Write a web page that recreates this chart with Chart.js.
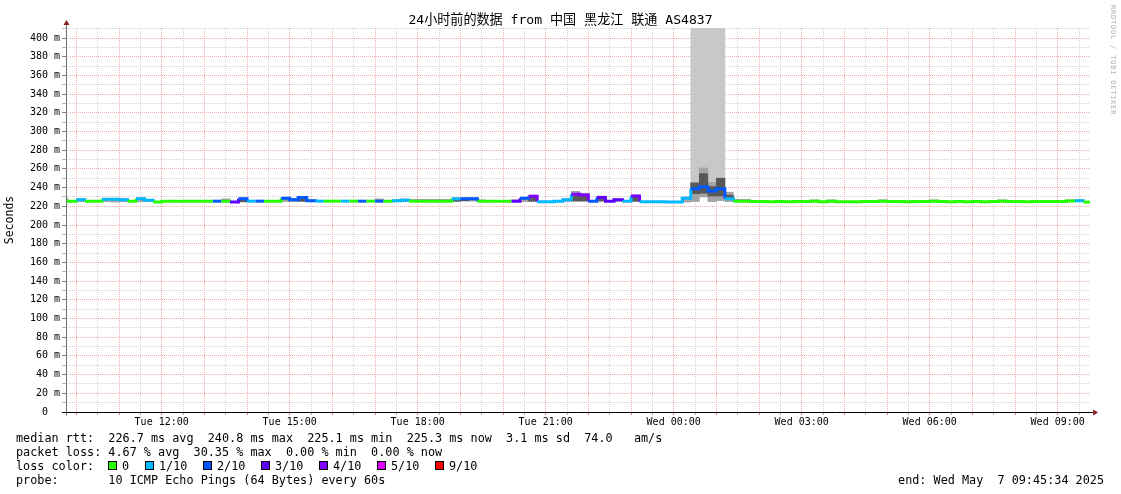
<!DOCTYPE html>
<html><head><meta charset="utf-8">
<script src="https://cdn.jsdelivr.net/npm/chart.js"></script>
<style>
html,body{margin:0;padding:0;background:#fff;overflow:hidden}
#wrap{position:relative;width:1121px;height:494px;background:#fff}
#c{position:absolute;left:0;top:0}
.t{position:absolute;font-family:'DejaVu Sans Mono',monospace;font-size:11.8px;line-height:14px;white-space:pre;color:#000}
.bx{position:absolute;width:7px;height:7px;border:1px solid #000}
#wm{position:absolute;left:1115.5px;top:5px;transform:rotate(90deg);transform-origin:0 0;font-family:'DejaVu Sans Mono',monospace;font-size:7px;line-height:7px;letter-spacing:0.8px;color:#b0b0b0;white-space:pre}
</style></head><body>
<div id="wrap">
<canvas id="c" width="1121" height="494"></canvas>
<div id="legend"></div>
<div id="wm">RRDTOOL / TOBI OETIKER</div>
</div>
<script>
const N = null;
const titleText = '24小时前的数据 from 中国 黑龙江 联通 AS4837';
const spanMinutes = 1440;          // 24 h window ending Wed May 7 09:45:34
const sampleMinutes = 12;          // consolidated step
const firstSample = -9.57;         // 09:36 relative to window start (09:45:34)
const firstGrid = 14.43;           // 10:00 relative to window start
const gridStep = 30;
const xTickLabels = ['Tue 12:00','Tue 15:00','Tue 18:00','Tue 21:00','Wed 00:00','Wed 03:00','Wed 06:00','Wed 09:00'];
const yMax = 410.7;

// median rtt per 12-minute sample (ms)
const median = [
225.5,225.5,227,225.5,225.5,227.5,227.5,227,225.5,228,
226.5,224.6,225.5,225.5,225.5,225.5,225.5,225.5,225.5,225.5,
224.5,228,225.5,225.5,225.5,225.5,228.5,227,229.5,226,
225.5,225.5,225.5,225.5,225.5,225.5,225.5,225.5,225.5,226,
226.5,225.5,225.5,225.5,225.5,225.5,228,228,228,225.5,
225.5,225.5,225.5,225.5,228.5,230.8,225,225,225.5,227,
233,232,225.5,229.5,225.5,227,225.5,231,225,225,
225,224.5,224.5,228.5,238.7,241,236.5,238.7,228,225.5,
225.5,225.2,225.2,224.8,225.2,224.8,225.2,225.2,225.4,224.8,
225.4,224.8,224.8,224.8,225.2,225.2,225.4,225.2,225.2,224.8,
225.2,225.2,225.4,225.2,224.8,225.2,224.8,225.2,224.8,225.2,
225.4,225.2,225.2,224.8,225.2,225.2,225.2,225.2,225.6,226,
224.5];
// lost pings out of 10 per sample
const loss = [
0,0,1,0,0,1,1,1,0,1,
1,0,0,0,0,0,0,0,2,0,
3,2,1,2,0,0,2,2,2,2,
1,0,0,1,0,2,0,2,0,1,
1,0,0,0,0,0,1,2,2,0,
0,0,0,3,2,4,1,1,1,1,
4,4,2,3,3,3,1,4,1,1,
1,1,1,1,2,2,2,2,1,0,
0,0,0,0,0,0,0,0,0,0,
0,0,0,0,0,0,0,0,0,0,
0,0,0,0,0,0,0,0,0,0,
0,0,0,0,0,0,0,0,0,1,
0];
// outer smoke (ping spread) low / high
const smokeLo = [
224.8,N,225,N,N,225,224.5,225,N,225,
225,N,N,N,N,N,N,N,N,224.8,
N,224.5,N,N,N,N,225,225,225,225,
N,N,N,N,N,N,N,225,N,225,
225,225,225,225,225,225,225,225.5,225.5,225,
N,N,N,225,225,225,N,N,N,225,
225,225,N,225,N,225,N,225,N,N,
N,N,N,224.5,225,230,225,226,225,225,
225,N,N,N,N,N,N,N,225,N,
225,N,N,N,N,N,225,N,N,N,
N,N,225,N,N,N,N,N,N,N,
225,N,N,N,N,N,N,N,225,225,
N];
const smokeHi = [
229,N,228.5,N,N,228.5,228.5,228.5,N,229,
227.5,N,N,N,N,N,N,N,N,228,
N,229,N,N,N,N,229.5,228.5,230.5,227,
N,N,N,N,N,N,N,228,N,227,
228,227.5,227.5,227.5,227.5,227.5,229,229,229,227,
N,N,N,227,229.5,232,N,N,N,228,
236,234,N,231,N,228,N,232,N,N,
N,N,N,230,245,261,245.5,250,235,227.5,
227.5,N,N,N,N,N,N,N,227,N,
227,N,N,N,N,N,227,N,N,N,
N,N,227,N,N,N,N,N,N,N,
227,N,N,N,N,N,N,N,227,227,
N];
// dense inner smoke low / high
const coreLo = [
N,N,N,N,N,N,N,N,N,N,
N,N,N,N,N,N,N,N,N,N,
N,225,N,N,N,N,N,N,225.5,N,
N,N,N,N,N,N,N,N,N,N,
N,N,N,N,N,N,225.5,226,N,N,
N,N,N,N,N,225.5,N,N,N,N,
226,226,N,226,N,N,N,225.5,N,N,
N,N,N,N,233.5,234,231,231,229,N,
N,N,N,N,N,N,N,N,N,N,
N,N,N,N,N,N,N,N,N,N,
N,N,N,N,N,N,N,N,N,N,
N,N,N,N,N,N,N,N,N,N,
N];
const coreHi = [
N,N,N,N,N,N,N,N,N,N,
N,N,N,N,N,N,N,N,N,N,
N,227,N,N,N,N,N,N,228.5,N,
N,N,N,N,N,N,N,N,N,N,
N,N,N,N,N,N,227.5,227.5,N,N,
N,N,N,N,N,229.5,N,N,N,N,
232,231,N,228.5,N,N,N,230,N,N,
N,N,N,N,245,255,241,250,232,N,
N,N,N,N,N,N,N,N,N,N,
N,N,N,N,N,N,N,N,N,N,
N,N,N,N,N,N,N,N,N,N,
N,N,N,N,N,N,N,N,N,N,
N];
// slowest pings going off the top of the graph
const tallLo = [
N,N,N,N,N,N,N,N,N,N,
N,N,N,N,N,N,N,N,N,N,
N,N,N,N,N,N,N,N,N,N,
N,N,N,N,N,N,N,N,N,N,
N,N,N,N,N,N,N,N,N,N,
N,N,N,N,N,N,N,N,N,N,
N,N,N,N,N,N,N,N,N,N,
N,N,N,N,245,261,245.5,250,N,N,
N,N,N,N,N,N,N,N,N,N,
N,N,N,N,N,N,N,N,N,N,
N,N,N,N,N,N,N,N,N,N,
N,N,N,N,N,N,N,N,N,N,
N];

const lossColors = ['#26ff00','#00b8ff','#0059ff','#5e00ff','#7e00ff','#dd00ff','#ff0000','#ff0000','#ff0000','#ff0000'];
const legendLossLabels = ['0','1/10','2/10','3/10','4/10','5/10','9/10'];
const legendLossColors = ['#26ff00','#00b8ff','#0059ff','#5e00ff','#7e00ff','#dd00ff','#ff0000'];
const statsRtt = 'median rtt:  226.7 ms avg  240.8 ms max  225.1 ms min  225.3 ms now  3.1 ms sd  74.0   am/s';
const statsLoss = 'packet loss: 4.67 % avg  30.35 % max  0.00 % min  0.00 % now';
const probeText = 'probe:       10 ICMP Echo Pings (64 Bytes) every 60s';
const endText = 'end: Wed May  7 09:45:34 2025';

// ---- build legend (HTML text) ----
const lg = document.getElementById('legend');
function addText(txt, left, top, extra) {
  const d = document.createElement('div'); d.className = 't'; d.textContent = txt;
  d.style.top = top + 'px';
  if (left !== null) d.style.left = left + 'px';
  if (extra) Object.assign(d.style, extra);
  lg.appendChild(d);
}
addText(statsRtt, 16, 431);
addText(statsLoss, 16, 445);
addText('loss color:', 16, 459);
const boxLeft = [108,145,203,261,319,377,435];
legendLossLabels.forEach((l, i) => {
  const b = document.createElement('div'); b.className = 'bx';
  b.style.left = boxLeft[i] + 'px'; b.style.top = '461px'; b.style.background = legendLossColors[i];
  lg.appendChild(b);
  addText(l, boxLeft[i] + 14, 459);
});
addText(probeText, 16, 473);
addText(endText, null, 473, {right: '17px'});

// ---- chart data ----
const sampleStart = i => firstSample + i * sampleMinutes;
const mid = i => sampleStart(i) + sampleMinutes / 2;
function rangeData(lo, hi) {
  const out = [];
  lo.forEach((v, i) => { if (v !== null) out.push({x: mid(i), y: [v, hi === 'top' ? yMax : hi[i]]}); });
  return out;
}
const medianPts = median.map((v, i) => ({x: sampleStart(i), y: v}));
medianPts.push({x: sampleStart(median.length), y: median[median.length - 1]});

const gridVals = [];
for (let v = firstGrid; v < spanMinutes; v += gridStep) gridVals.push(v);
const yVals = [];
for (let v = 0; v <= 410; v += 10) yVals.push(v);

const RED = '#f4a8a8', GREY = '#d2d2d2';
const monoFont = "'DejaVu Sans Mono', monospace";

const axesPlugin = {
  id: 'rrdAxes',
  afterDatasetsDraw(chart) {
    const {ctx, chartArea: a} = chart;
    const ax = Math.floor(a.left) + 0.5, ay = Math.round(a.bottom) + 0.5;
    ctx.save();
    ctx.lineWidth = 1;
    ctx.strokeStyle = '#707070';
    ctx.beginPath(); ctx.moveTo(ax, ay + 3); ctx.lineTo(ax, a.top - 3); ctx.stroke();
    ctx.strokeStyle = '#000';
    ctx.beginPath(); ctx.moveTo(a.left - 4, ay); ctx.lineTo(a.right + 3, ay); ctx.stroke();
    ctx.fillStyle = '#8b1c1c';
    ctx.beginPath(); ctx.moveTo(ax, a.top - 8); ctx.lineTo(ax - 3, a.top - 3); ctx.lineTo(ax + 3, a.top - 3); ctx.closePath(); ctx.fill();
    ctx.beginPath(); ctx.moveTo(a.right + 8, ay); ctx.lineTo(a.right + 3, ay - 3); ctx.lineTo(a.right + 3, ay + 3); ctx.closePath(); ctx.fill();
    ctx.restore();
  }
};

const barBase = {type: 'bar', grouped: false, categoryPercentage: 1, barPercentage: 1, borderWidth: 0, clip: 0};

new Chart(document.getElementById('c'), {
  type: 'bar',
  data: {
    datasets: [
      Object.assign({}, barBase, {label: 'tall', data: rangeData(tallLo, 'top'), backgroundColor: '#c8c8c8', order: 4}),
      Object.assign({}, barBase, {label: 'smoke', data: rangeData(smokeLo, smokeHi), backgroundColor: '#a4a4a4', order: 3}),
      Object.assign({}, barBase, {label: 'core', data: rangeData(coreLo, coreHi), backgroundColor: '#585858', order: 2}),
      {type: 'line', label: 'median', data: medianPts, stepped: 'before', borderWidth: 3, pointRadius: 0,
       borderJoinStyle: 'miter', borderCapStyle: 'butt', clip: 0, order: 0,
       borderColor: lossColors[0],
       segment: {borderColor: c => lossColors[loss[Math.min(c.p0DataIndex, loss.length - 1)]]}}
    ]
  },
  options: {
    responsive: false, devicePixelRatio: 1, animation: false, events: [],
    layout: {padding: {left: 0, right: 0, top: 0, bottom: 0}},
    plugins: {
      legend: {display: false}, tooltip: {enabled: false},
      title: {display: true, text: titleText, color: '#000',
        font: {family: "'DejaVu Sans Mono', 'Noto Sans CJK SC', monospace", size: 13.1, weight: 'normal', lineHeight: 1},
        padding: {top: 14.45, bottom: 0.45}}
    },
    scales: {
      x: {
        type: 'linear', min: 0, max: spanMinutes, offset: false,
        afterBuildTicks: s => { s.ticks = gridVals.map(v => ({value: v})); },
        afterFit: s => { s.height = 82; },
        ticks: {autoSkip: false, maxRotation: 0, minRotation: 0, padding: 1, color: '#000',
          font: {family: monoFont, size: 10},
          callback: (v, i) => ((i - 4) % 6 === 0 && i >= 4) ? xTickLabels[(i - 4) / 6] : ''},
        grid: {offset: false, lineWidth: 1, tickLength: 3,
          color: c => (c.index % 2 === 0 ? RED : GREY),
          tickColor: c => (c.index % 2 === 0 ? '#d08080' : '#b0b0b0')},
        border: {display: false, dash: [1, 1]}
      },
      y: {
        type: 'linear', min: 0, max: yMax,
        afterBuildTicks: s => { s.ticks = yVals.map(v => ({value: v})); },
        afterFit: s => { s.width = 66.1; },
        ticks: {autoSkip: false, padding: 2, color: '#000', font: {family: monoFont, size: 10},
          callback: v => (v % 20 === 0 ? (v === 0 ? '0  ' : v + ' m') : '')},
        grid: {lineWidth: 1, tickLength: 4,
          color: c => (c.tick.value === 0 ? 'rgba(0,0,0,0)' : (c.tick.value % 20 === 0 ? RED : GREY)),
          tickColor: c => (c.tick.value % 20 === 0 ? '#808080' : '#b8b8b8')},
        border: {display: false, dash: [1, 1]},
        title: {display: true, text: 'Seconds', color: '#000', font: {family: monoFont, size: 11.5, lineHeight: 1.2}, padding: {top: 3, bottom: 0}}
      },
      yr: {
        type: 'linear', position: 'right', display: true, min: 0, max: yMax,
        afterFit: s => { s.width = 30.9; },
        ticks: {display: false}, grid: {display: false, drawOnChartArea: false, drawTicks: false},
        border: {display: false}, title: {display: false}
      }
    }
  },
  plugins: [axesPlugin]
});
</script>
</body></html>
